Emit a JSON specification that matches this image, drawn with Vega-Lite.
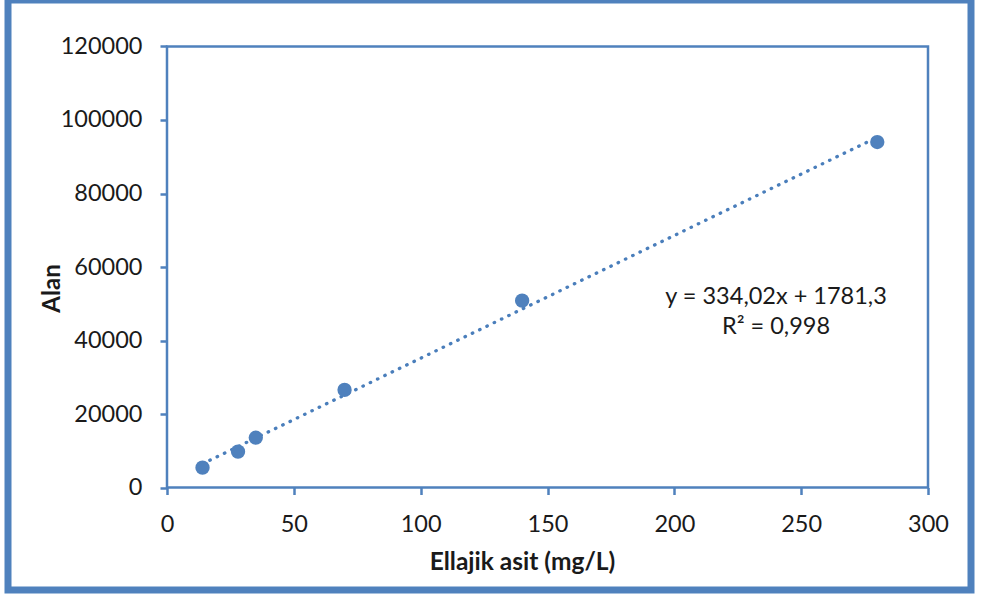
{
  "$schema": "https://vega.github.io/schema/vega-lite/v6.json",
  "autosize": {"type": "none"},
  "width": 963,
  "height": 590,
  "padding": {"left": 8, "top": 0, "right": 13, "bottom": 6},
  "background": "white",
  "view": {"stroke": "#4f81bd", "strokeWidth": 7, "fill": "white"},
  "datasets": {
    "olcum": [
      {"konsantrasyon": 14, "alan": 5400},
      {"konsantrasyon": 28, "alan": 9750},
      {"konsantrasyon": 35, "alan": 13550},
      {"konsantrasyon": 70, "alan": 26550},
      {"konsantrasyon": 140, "alan": 50850},
      {"konsantrasyon": 280, "alan": 94000}
    ],
    "egilim": [
      {"konsantrasyon": 14, "alan": 6457.58},
      {"konsantrasyon": 280, "alan": 95306.9}
    ]
  },
  "layer": [
    {
      "data": {"values": [{}]},
      "mark": {"type": "rect", "fill": null, "stroke": "#4f81bd", "strokeWidth": 2.5},
      "encoding": {
        "x": {"datum": 0, "type": "quantitative"},
        "x2": {"datum": 300},
        "y": {"datum": 0, "type": "quantitative"},
        "y2": {"datum": 120000}
      }
    },
    {
      "data": {"name": "egilim"},
      "mark": {"type": "line", "color": "#4a7ebb", "strokeWidth": 3.3, "strokeCap": "round", "strokeDash": [0.5, 7.6]},
      "encoding": {
        "x": {"field": "konsantrasyon", "type": "quantitative"},
        "y": {"field": "alan", "type": "quantitative"}
      }
    },
    {
      "data": {"name": "olcum"},
      "mark": {"type": "circle", "color": "#4f81bd", "opacity": 1, "size": 205},
      "encoding": {
        "x": {
          "field": "konsantrasyon",
          "type": "quantitative",
          "scale": {"domain": [-62.68, 316.95], "nice": false, "zero": false},
          "axis": {
            "values": [0, 50, 100, 150, 200, 250, 300],
            "offset": -102.5,
            "domain": false,
            "grid": false,
            "tickSize": 7,
            "tickWidth": 2.5,
            "tickColor": "#4f81bd",
            "labelFont": "Lato",
            "labelFontSize": 23.5,
            "labelColor": "#1a1a1a",
            "labelPadding": 18,
            "title": "Ellajik asit (mg/L)",
            "titleFont": "Lato",
            "titleFontSize": 24.5,
            "titleFontWeight": "bold",
            "titleColor": "#1a1a1a",
            "titleX": 514,
            "titleY": 74.5,
            "titleBaseline": "middle",
            "titleAlign": "center"
          }
        },
        "y": {
          "field": "alan",
          "type": "quantitative",
          "scale": {"domain": [-27891, 132653], "nice": false, "zero": false},
          "axis": {
            "values": [0, 20000, 40000, 60000, 80000, 100000, 120000],
            "format": "d",
            "offset": -159,
            "domain": false,
            "grid": false,
            "tickSize": 7,
            "tickWidth": 2.5,
            "tickColor": "#4f81bd",
            "labelFont": "Lato",
            "labelFontSize": 23.5,
            "labelColor": "#1a1a1a",
            "labelPadding": 18,
            "title": "Alan",
            "titleFont": "Lato",
            "titleFontSize": 24,
            "titleFontWeight": "bold",
            "titleColor": "#1a1a1a",
            "titleAngle": 270,
            "titleX": -115,
            "titleY": 288,
            "titleBaseline": "middle",
            "titleAlign": "center"
          }
        }
      }
    },
    {
      "data": {"values": [{}]},
      "mark": {"type": "text", "font": "Lato", "fontSize": 23.5, "color": "#1a1a1a", "align": "center", "baseline": "middle", "lineHeight": 30},
      "encoding": {
        "x": {"datum": 240.1, "type": "quantitative"},
        "y": {"datum": 51918, "type": "quantitative"},
        "text": {"value": ["y = 334,02x + 1781,3", "R² = 0,998"]}
      }
    }
  ]
}
